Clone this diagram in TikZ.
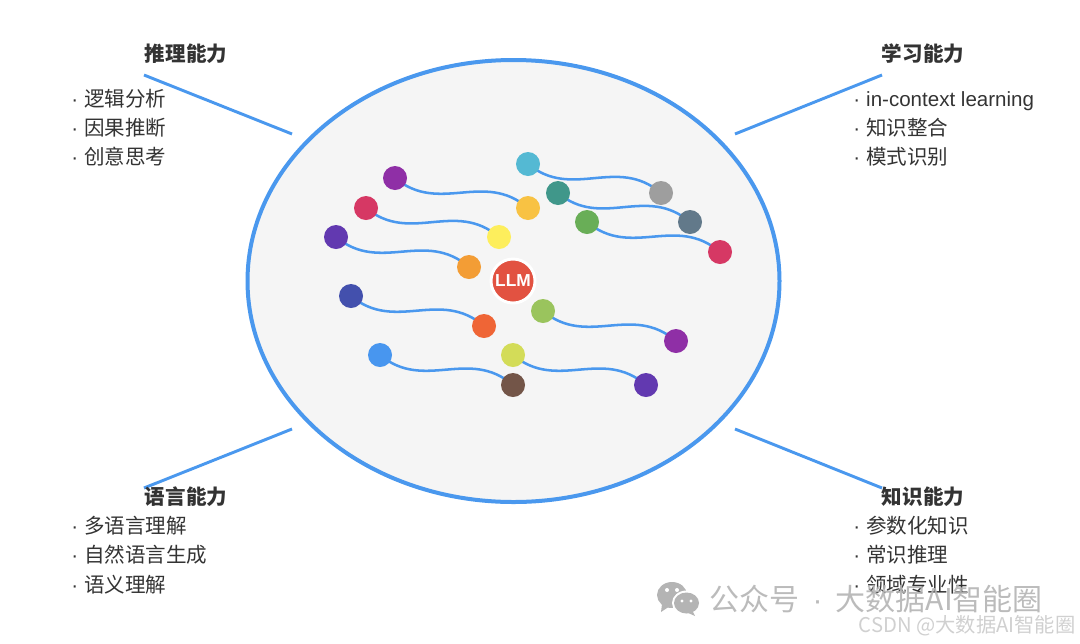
\documentclass[tikz,border=0pt]{standalone}
\usepackage{fontspec}
\setmainfont{Liberation Sans}
\newfontfamily\cjk{Noto Sans CJK SC}
\usetikzlibrary{shapes.geometric,calc,backgrounds}
\definecolor{wireblue}{HTML}{4A98EE}
\definecolor{inkc}{HTML}{333333}
\definecolor{cPurple}{HTML}{8F2FA6}
\definecolor{cAmber}{HTML}{F8C243}
\definecolor{cPink}{HTML}{D63864}
\definecolor{cYellow}{HTML}{FDEE5C}
\definecolor{cDeep}{HTML}{6239B0}
\definecolor{cOrange}{HTML}{F39D35}
\definecolor{cCyan}{HTML}{54B9D3}
\definecolor{cGray}{HTML}{9E9E9E}
\definecolor{cTeal}{HTML}{40978A}
\definecolor{cSlate}{HTML}{62798A}
\definecolor{cGreen}{HTML}{69AE57}
\definecolor{cIndigo}{HTML}{4350AD}
\definecolor{cDeepOr}{HTML}{EF6536}
\definecolor{cLight}{HTML}{9AC45D}
\definecolor{cBlue}{HTML}{4896EF}
\definecolor{cLime}{HTML}{D3DC58}
\definecolor{cBrown}{HTML}{735548}
\definecolor{cRed}{HTML}{E25241}
\definecolor{markc}{HTML}{B4B4B4}
\definecolor{marks}{HTML}{CDCDCD}
\tikzset{
  dot/.style={circle,fill=#1,draw=none,minimum size=18pt,inner sep=0pt},
  wire/.style={draw=wireblue,line width=1.9pt},
  leader/.style={draw=wireblue,line width=2.2pt},
  captitle/.style={anchor=center,text=inkc,font=\cjk\bfseries\fontsize{15.4pt}{18pt}\selectfont},
  capitem/.style={anchor=west,text=inkc,inner sep=0pt,text height=13pt,text depth=1.8pt,font=\cjk\fontsize{15.4pt}{18pt}\selectfont},
  marktext/.style={anchor=center,inner sep=0pt,text=markc,font=\cjk\fontsize{22.5pt}{26pt}\selectfont,text opacity=.9},
  marksmall/.style={anchor=center,inner sep=0pt,text=marks,font=\cjk\fontsize{15.2pt}{18pt}\selectfont,text opacity=.95}
}
\newcommand{\wave}[2]{\draw[wire] (#1.center)
  .. controls ($(#1)!.3333!(#2)+(0,27)$) and ($(#1)!.6667!(#2)+(0,-28)$) .. (#2.center);}
\newcommand{\dotitem}[1]{{\rmfamily ·}\hspace{4.6pt}#1}
\begin{document}
\begin{tikzpicture}[x=0.75pt,y=-0.75pt]
\useasboundingbox (0,0) rectangle (1080,643);
% dots
\node[dot=cPurple] (a1) at (395,178) {};
\node[dot=cAmber]  (a2) at (528,208) {};
\node[dot=cPink]   (b1) at (366,208) {};
\node[dot=cYellow] (b2) at (499,237) {};
\node[dot=cDeep]   (c1) at (336,237) {};
\node[dot=cOrange] (c2) at (469,267) {};
\node[dot=cCyan]   (d1) at (528,164) {};
\node[dot=cGray]   (d2) at (661,193) {};
\node[dot=cTeal]   (e1) at (558,193) {};
\node[dot=cSlate]  (e2) at (690,222) {};
\node[dot=cGreen]  (f1) at (587,222) {};
\node[dot=cPink]   (f2) at (720,252) {};
\node[dot=cIndigo] (g1) at (351,296) {};
\node[dot=cDeepOr] (g2) at (484,326) {};
\node[dot=cLight]  (h1) at (543,311) {};
\node[dot=cPurple] (h2) at (676,341) {};
\node[dot=cBlue]   (i1) at (380,355) {};
\node[dot=cBrown]  (i2) at (513,385) {};
\node[dot=cLime]   (j1) at (513,355) {};
\node[dot=cDeep]   (j2) at (646,385) {};
\node[circle,fill=cRed,draw=white,line width=2.2pt,minimum size=33pt,inner sep=0pt,text=white,font=\bfseries\fontsize{13pt}{15pt}\selectfont] (llm) at (513,281) {LLM};
\begin{pgfonlayer}{background}
\node[ellipse,fill=black!4,draw=wireblue,line width=3pt,minimum width=399pt,minimum height=331.5pt,inner sep=0pt] (blob) at (513.5,281) {};
\wave{a1}{a2}\wave{b1}{b2}\wave{c1}{c2}\wave{d1}{d2}\wave{e1}{e2}
\wave{f1}{f2}\wave{g1}{g2}\wave{h1}{h2}\wave{i1}{i2}\wave{j1}{j2}
\end{pgfonlayer}
% leaders
\coordinate (tl) at (144,75);  \coordinate (tlb) at (292,134);
\coordinate (tr) at (882,75);  \coordinate (trb) at (735,134);
\coordinate (bl) at (144,488); \coordinate (blb) at (292,429);
\coordinate (br) at (882,488); \coordinate (brb) at (735,429);
\draw[leader] (tl) -- (tlb);
\draw[leader] (tr) -- (trb);
\draw[leader] (bl) -- (blb);
\draw[leader] (br) -- (brb);
% top left
\node[captitle] (t1) at (186,53.5) {推理能力};
\node[capitem] (t1a) at (71,99) {\dotitem{逻辑分析}};
\node[capitem] (t1b) at (71,128) {\dotitem{因果推断}};
\node[capitem] (t1c) at (71,157) {\dotitem{创意思考}};
% top right
\node[captitle] (t2) at (923,53.5) {学习能力};
\node[capitem] (t2a) at (853,99) {\dotitem{\rmfamily in-context learning}};
\node[capitem] (t2b) at (853,128) {\dotitem{知识整合}};
\node[capitem] (t2c) at (853,157) {\dotitem{模式识别}};
% bottom left
\node[captitle] (t3) at (186,496.5) {语言能力};
\node[capitem] (t3a) at (71,526) {\dotitem{多语言理解}};
\node[capitem] (t3b) at (71,555) {\dotitem{自然语言生成}};
\node[capitem] (t3c) at (71,585) {\dotitem{语义理解}};
% bottom right
\node[captitle] (t4) at (923,496.5) {知识能力};
\node[capitem] (t4a) at (853,526) {\dotitem{参数化知识}};
\node[capitem] (t4b) at (853,555) {\dotitem{常识推理}};
\node[capitem] (t4c) at (853,585) {\dotitem{领域专业性}};
% watermark
\fill[markc] (672,595) ellipse [x radius=15,y radius=13];
\fill[markc] (662,604) -- (661,612) -- (670,606) -- cycle;
\fill[white] (686.5,603) ellipse [x radius=14.5,y radius=12.5];
\fill[markc] (686.5,603) ellipse [x radius=12.5,y radius=10.5];
\fill[markc] (692,610) -- (695,616) -- (686,612) -- cycle;
\fill[white] (667,590) circle (2); \fill[white] (677,590) circle (2);
\fill[white] (682,601) circle (1.6); \fill[white] (691,601) circle (1.6);
\node[marktext] (wm) at (876,599) {公众号\hspace{10pt}{\rmfamily ·}\hspace{10pt}大数据AI智能圈};
\node[marksmall] (cs) at (967,626) {CSDN @大数据AI智能圈};
\end{tikzpicture}
\end{document}
